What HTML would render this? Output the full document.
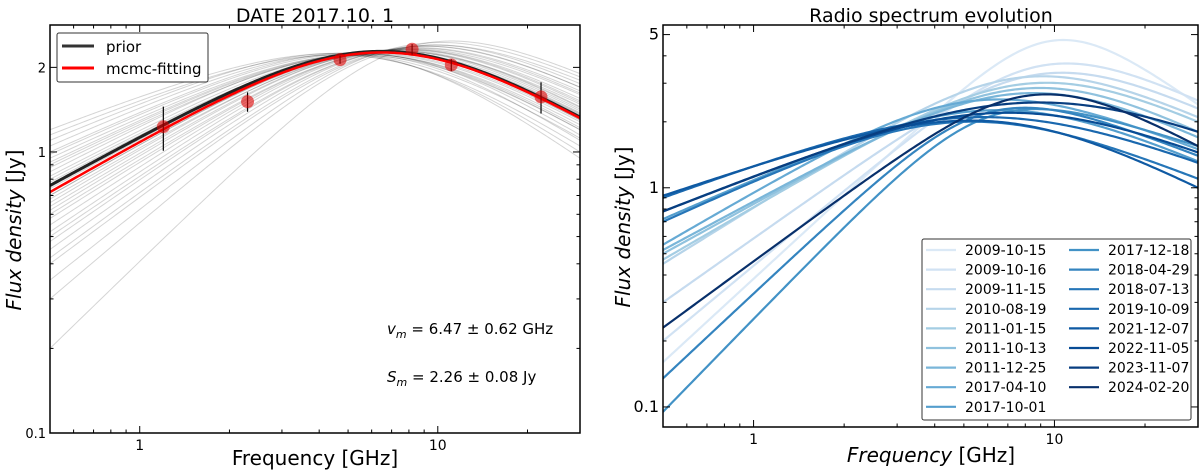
<!DOCTYPE html>
<html><head><meta charset="utf-8"><style>
body{margin:0;background:#fff;}
svg{display:block;font-family:"DejaVu Sans","Liberation Sans",sans-serif;}
</style></head><body>
<svg id="chart" width="1200" height="472" viewBox="0 0 1200 472" xmlns="http://www.w3.org/2000/svg">
<defs>
<clipPath id="clipL"><rect x="50" y="25" width="530" height="408"/></clipPath>
<clipPath id="clipR"><rect x="663" y="25" width="535" height="402"/></clipPath>
</defs>
<text x="315" y="22" font-size="19" text-anchor="middle">DATE 2017.10. 1</text>
<text x="931" y="22" font-size="19" text-anchor="middle">Radio spectrum evolution</text>
<g id="left"></g>
<g id="right"></g>
<text x="315" y="465" font-size="20" text-anchor="middle">Frequency [GHz]</text>
<text transform="translate(21,230) rotate(-90)" font-size="20" text-anchor="middle"><tspan font-style="italic">Flux density</tspan>  [Jy]</text>
<text x="931" y="462" font-size="20" text-anchor="middle"><tspan font-style="italic">Frequency</tspan>  [GHz]</text>
<text transform="translate(630,227) rotate(-90)" font-size="20" text-anchor="middle"><tspan font-style="italic">Flux density</tspan>  [Jy]</text>
<text x="387" y="334" font-size="15"><tspan font-style="italic">v</tspan><tspan font-style="italic" font-size="11" dy="4">m</tspan><tspan dy="-4"> = 6.47 ± 0.62 GHz</tspan></text>
<text x="387" y="382" font-size="15"><tspan font-style="italic">S</tspan><tspan font-style="italic" font-size="11" dy="4">m</tspan><tspan dy="-4"> = 2.26 ± 0.08 Jy</tspan></text>
</svg>
<script>
// ---- data: left panel ----
const obsFreq=[1.2,2.3,4.7,8.2,11.1,22.2];
const obsFlux=[1.23,1.51,2.13,2.32,2.04,1.57];
const obsErr=[0.22,0.12,0.07,0.1,0.1,0.2];
const fitSm=2.26, fitNum=6.47, fitLow=0.72, fitHigh=1.32;
const priorSm=2.28, priorNum=6.6, priorLow=0.76, priorHigh=1.33;
const sampSm=[2.2,2.3,2.25,2.35,2.18,2.28,2.32,2.22,2.4,2.26,2.3,2.24,2.19,2.33,2.27,2.21,2.36,2.29,2.23,2.31,2.25,2.34,2.2,2.28,2.3,2.26,2.22,2.38,2.24,2.27,2.29,2.21,2.32,2.25,2.35,2.23];
const sampNum=[6.0,7.0,6.5,7.5,5.8,6.8,7.2,6.2,8.0,6.6,6.9,6.1,5.7,7.4,6.4,6.0,7.8,6.7,6.3,7.1,6.5,7.6,5.9,6.8,7.0,6.4,6.2,8.2,6.3,6.6,6.9,5.8,7.3,6.5,7.7,6.1];
const sampLow=[0.9,0.55,0.7,0.45,1.15,0.8,0.6,0.95,0.35,0.75,0.62,1.0,1.05,0.5,0.72,0.85,0.4,0.66,0.88,0.58,0.78,0.3,1.1,0.68,0.52,0.74,0.92,0.2,0.82,0.7,0.64,1.2,0.48,0.76,0.42,0.98];
const sampHigh=[1.2,1.5,1.35,1.7,1.05,1.4,1.6,1.25,1.85,1.3,1.45,1.15,1.0,1.65,1.38,1.1,1.8,1.42,1.28,1.55,1.33,1.75,0.95,1.48,1.52,1.36,1.22,1.9,1.3,1.34,1.44,1.12,1.62,1.37,1.7,1.2];
// ---- data: right panel ----
const dates=["2009-10-15","2009-10-16","2009-11-15","2010-08-19","2011-01-15","2011-10-13","2011-12-25","2017-04-10","2017-10-01","2017-12-18","2018-04-29","2018-07-13","2019-10-09","2021-12-07","2022-11-05","2023-11-07","2024-02-20"];
const evoSm=[4.7,3.6,3.3,3.2,3.0,2.85,2.7,2.5,2.26,2.1,2.2,2.0,2.1,2.0,2.2,2.45,2.65];
const evoNum=[10,9,9,8,8.5,8.5,8,5.5,6.5,6,6,5,6,6.5,7,9,8.5];
const evoLow=[0.16,0.2,0.3,0.45,0.47,0.5,0.52,0.55,0.72,0.095,0.135,0.7,0.9,0.92,0.78,0.78,0.23];
const evoHigh=[2.4,2.5,2.3,2.1,2.0,1.8,1.7,1.5,1.32,1.55,1.4,1.1,1.3,1.0,1.45,1.8,1.55];
const yTicksL=[0.1,1,2], yTicksR=[0.1,1,5], xTicks=[1,10];

const NS="http://www.w3.org/2000/svg";
const SH=1.7;
function mk(tag,attrs,parent){const e=document.createElementNS(NS,tag);for(const k in attrs)e.setAttribute(k,attrs[k]);parent.appendChild(e);return e;}
function model(Sm,num,low,high){
  let a=0.7,b=-0.7;const xl=0.5/num,xh=30/num,s=SH;
  for(let i=0;i<60;i++){
    let v=2*Math.pow(Sm/low,s)-Math.pow(xl,-b*s); if(v<1.01)v=1.01; a=-Math.log(v)/(s*Math.log(xl));
    let w=2*Math.pow(Sm/high,s)-Math.pow(xh,-a*s); if(w<1.01)w=1.01; b=-Math.log(w)/(s*Math.log(xh));
  }
  return nu=>{const x=nu/num;return Sm*Math.pow(2,1/s)/Math.pow(Math.pow(x,-a*s)+Math.pow(x,-b*s),1/s);};
}
function axes(x0,x1,y0,y1,ymin,ymax){
  const X=v=>x0+(Math.log10(v)-Math.log10(0.5))/(Math.log10(30)-Math.log10(0.5))*(x1-x0);
  const Y=v=>y1-(Math.log10(v)-Math.log10(ymin))/(Math.log10(ymax)-Math.log10(ymin))*(y1-y0);
  return {X,Y};
}
function path(f,ax){let d="";for(let i=0;i<=240;i++){const nu=Math.pow(10,Math.log10(0.5)+i/240*Math.log10(60));d+=(i?"L":"M")+ax.X(nu).toFixed(2)+","+ax.Y(f(nu)).toFixed(2);}return d;}
function frame(g,x0,x1,y0,y1,ax,yticks,ymin,ymax,idp){
  const minorX=[0.6,0.7,0.8,0.9,2,3,4,5,6,7,8,9,20,30];
  minorX.forEach(v=>{const x=ax.X(v);if(x>x0&&x<x1){mk("line",{x1:x,x2:x,y1:y1,y2:y1-3.5,stroke:"#000"},g);mk("line",{x1:x,x2:x,y1:y0,y2:y0+3.5,stroke:"#000"},g);}});
  xTicks.forEach(v=>{const x=ax.X(v);mk("line",{x1:x,x2:x,y1:y1,y2:y1-7,stroke:"#000"},g);mk("line",{x1:x,x2:x,y1:y0,y2:y0+7,stroke:"#000"},g);
    const t=mk("text",{x:x,y:y1+17,"font-size":14,"text-anchor":"middle"},g);t.textContent=v;
    
    });
  const minorY=[];[0.1,1].forEach(d=>{for(let k=2;k<=9;k++)minorY.push(d*k);});
  minorY.forEach(v=>{if(v<=ymin||v>=ymax||yticks.includes(v))return;const y=ax.Y(v);mk("line",{x1:x0,x2:x0+3.5,y1:y,y2:y,stroke:"#000"},g);mk("line",{x1:x1,x2:x1-3.5,y1:y,y2:y,stroke:"#000"},g);});
  yticks.forEach(v=>{const y=ax.Y(v);mk("line",{x1:x0,x2:x0+7,y1:y,y2:y,stroke:"#000"},g);mk("line",{x1:x1,x2:x1-7,y1:y,y2:y,stroke:"#000"},g);
    const t=mk("text",{x:x0-4,y:y+5,"font-size":(idp?13:16),"text-anchor":"end"},g);t.textContent=v;
    
    });
  const r=mk("rect",{x:x0,y:y0,width:x1-x0,height:y1-y0,fill:"none",stroke:"#000","stroke-width":1.5},g);
  
  
}
// left panel
(function(){
  const g=document.getElementById("left");
  const ax=axes(50,580,25,433,0.1,2.83);
  const cg=mk("g",{"clip-path":"url(#clipL)"},g);
  sampSm.forEach((s,i)=>{const p=mk("path",{d:path(model(s,sampNum[i],sampLow[i],sampHigh[i]),ax),fill:"none",stroke:"#000","stroke-opacity":0.17,"stroke-width":1},cg);
    
    });
  const pr=mk("path",{d:path(model(priorSm,priorNum,priorLow,priorHigh),ax),fill:"none",stroke:"#222","stroke-width":3},cg);
  
  
  const fit=mk("path",{d:path(model(fitSm,fitNum,fitLow,fitHigh),ax),fill:"none",stroke:"#f00","stroke-width":2.5},cg);
  
  
  obsFreq.forEach((f,i)=>{const x=ax.X(f);
    const e=mk("line",{x1:x,x2:x,y1:ax.Y(obsFlux[i]+obsErr[i]),y2:ax.Y(obsFlux[i]-obsErr[i]),stroke:"#000","stroke-width":1.2},cg);
    
    
    const c=mk("circle",{cx:x,cy:ax.Y(obsFlux[i]),r:6.5,fill:"#d00","fill-opacity":0.6},cg);
    
    });
  frame(g,50,580,25,433,ax,yTicksL,0.1,2.83,true);
  const lg=mk("g",{},g);
  
  
  mk("rect",{x:57,y:33,width:151,height:49,rx:2,fill:"#fff",stroke:"#333"},lg);
  mk("line",{x1:62,x2:94,y1:46,y2:46,stroke:"#333","stroke-width":3},lg);
  mk("line",{x1:62,x2:94,y1:68,y2:68,stroke:"#f00","stroke-width":3},lg);
  let t=mk("text",{x:106,y:52,"font-size":15},lg);t.textContent="prior";
  t=mk("text",{x:106,y:74,"font-size":15},lg);t.textContent="mcmc-fitting";
})();
// right panel
(function(){
  const g=document.getElementById("right");
  const ax=axes(663,1198,25,427,0.081,5.53);
  const stops=[[247,251,255],[222,235,247],[198,219,239],[158,202,225],[107,174,214],[66,146,198],[33,113,181],[8,81,156],[8,48,107]];
  function blues(t){const p=t*8,i=Math.min(7,Math.floor(p)),f=p-i;const a=stops[i],b=stops[i+1];return "rgb("+a.map((v,k)=>Math.round(v+(b[k]-v)*f)).join(",")+")";}
  const cols=dates.map((d,i)=>blues(0.14+0.86*i/(dates.length-1)));
  const cg=mk("g",{"clip-path":"url(#clipR)"},g);
  dates.forEach((d,i)=>{const p=mk("path",{d:path(model(evoSm[i],evoNum[i],evoLow[i],evoHigh[i]),ax),fill:"none",stroke:cols[i],"stroke-width":2.2},cg);
    
    });
  frame(g,663,1198,25,427,ax,yTicksR,0.081,5.53,false);
  const lg=mk("g",{},g);
  
  
  mk("rect",{x:922,y:239,width:269,height:181,rx:2,fill:"#fff",stroke:"#333"},lg);
  dates.forEach((d,i)=>{const col=i<9?0:1,row=i<9?i:i-9;const y=250+row*19.6;const lx=col?1069:926,tx=col?1108:965;
    const ln=mk("line",{x1:lx,x2:lx+30,y1:y,y2:y,stroke:cols[i],"stroke-width":2.2},lg);
    
    
    const t=mk("text",{x:tx,y:y+5,"font-size":14},lg);t.textContent=d;
    
    });
})();
</script>
</body></html>
